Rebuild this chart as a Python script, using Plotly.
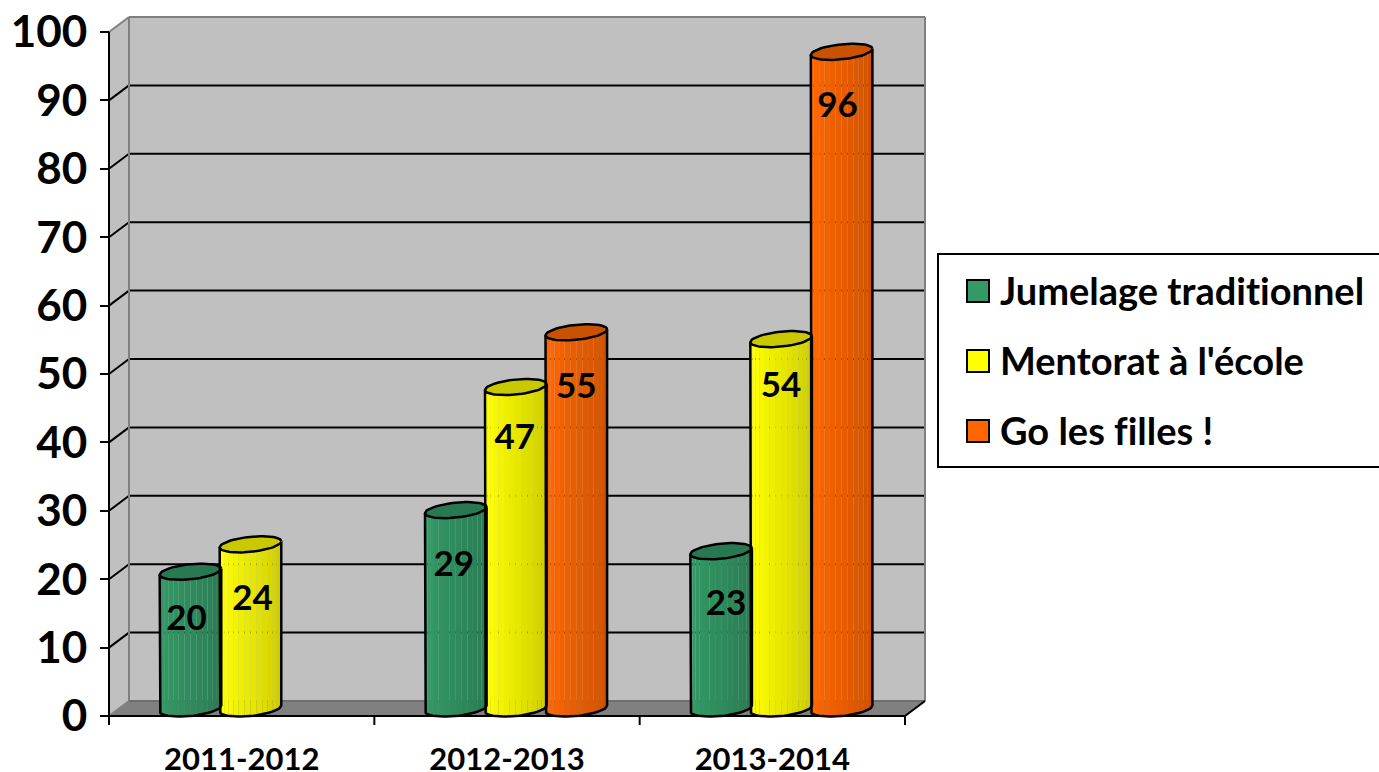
import math
import plotly.graph_objects as go

# ---- data ----
categories = ["2011-2012", "2012-2013", "2013-2014"]
jumelage = [20, 29, 23]
mentorat = [24, 47, 54]
go_filles = [None, 55, 96]
series_names = ["Jumelage traditionnel", "Mentorat à l'école", "Go les filles !"]
y_ticks = [0, 10, 20, 30, 40, 50, 60, 70, 80, 90, 100]

# ---- style ----
series_rgb = [(0x33, 0x99, 0x66), (0xFF, 0xFF, 0x00), (0xFF, 0x66, 0x00)]
W, H = 1379, 772
LEFT, RIGHT, BOTTOM, TOP = 109, 905, 716, 32
PX_X = (RIGHT - LEFT) / len(categories)
PX_Y = (BOTTOM - TOP) / 100
xr = [-0.5 - LEFT / PX_X, len(categories) - 0.5 + (W - RIGHT) / PX_X]
yr = [-(H - BOTTOM) / PX_Y, 100 + TOP / PX_Y]
DX, DY = 20 / PX_X, 15 / PX_Y          # wall depth in data units
X0, X1 = -0.5, len(categories) - 0.5
SHIFT_X, SHIFT_Y = 8.8 / PX_X, 7.5 / PX_Y  # cylinders stand at mid depth
R = 30.8 / PX_X
OFFS = [-60 / PX_X, 0, 60.5 / PX_X]
EH, ET = 7.5 / PX_Y, 3 / PX_Y          # ellipse half height, tilt
N = 16
LINE_W = 2.5
# small hand offsets of the value labels, in pixels: (dx, dy down), series by category
label_nudge = [[(-4, 0), (-2, 7), (5, 5)],
               [(2, 7), (-1, 3), (0, -1)],
               [None, (0, 7), (-4, 6)]]


def shade(rgb, f):
    return "rgb(%d,%d,%d)" % tuple(round(c * f) for c in rgb)


def band_factor(k):
    t = k / (N - 1)
    return 1.0 if t < 0.15 else 1.0 - 0.22 * (t - 0.15) / 0.85


fig = go.Figure()
all_series = [jumelage, mentorat, go_filles]

for s, (name, vals) in enumerate(zip(series_names, all_series)):
    xs, bases, hs, widths, cols = [], [], [], [], []
    for i, v in enumerate(vals):
        if v is None:
            continue
        cx = i + SHIFT_X + OFFS[s]
        for k in range(N):
            a0 = math.pi * (1 - k / N)
            a1 = math.pi * (1 - (k + 1) / N)
            am = (a0 + a1) / 2
            e0, e1 = cx + R * math.cos(a0), cx + R * math.cos(a1)
            xs.append((e0 + e1) / 2)
            widths.append(e1 - e0)
            bases.append(SHIFT_Y - EH * math.sin(am) + ET * math.cos(am))
            hs.append(v)
            cols.append(shade(series_rgb[s], band_factor(k)))
    fig.add_trace(go.Bar(x=xs, y=hs, base=bases, width=widths, name=name,
                         legendgroup=name, marker=dict(color=cols, line=dict(width=0)),
                         hoverinfo="skip"))

# cylinder outlines and top faces
for s, vals in enumerate(all_series):
    for i, v in enumerate(vals):
        if v is None:
            continue
        cx = i + SHIFT_X + OFFS[s]
        angs = [math.pi * j / 30 for j in range(31)]
        low = [(cx + R * math.cos(a), SHIFT_Y - EH * math.sin(a) + ET * math.cos(a)) for a in angs][::-1]
        sil_x = [cx - R] + [p[0] for p in low] + [cx + R]
        sil_y = [v + SHIFT_Y - ET] + [p[1] for p in low] + [v + SHIFT_Y + ET]
        fig.add_trace(go.Scatter(x=sil_x, y=sil_y, mode="lines", showlegend=False, hoverinfo="skip",
                                 line=dict(color="black", width=LINE_W)))
        fa = [math.pi * j / 30 for j in range(61)]
        fig.add_trace(go.Scatter(x=[cx + R * math.cos(a) for a in fa],
                                 y=[v + SHIFT_Y + EH * math.sin(a) + ET * math.cos(a) for a in fa],
                                 mode="lines", fill="toself", fillcolor=shade(series_rgb[s], 0.79),
                                 showlegend=False, hoverinfo="skip",
                                 line=dict(color="black", width=LINE_W)))

# data labels
lx, ly, lt = [], [], []
for s, vals in enumerate(all_series):
    for i, v in enumerate(vals):
        if v is None:
            continue
        ndx, ndy = label_nudge[s][i]
        lx.append(i + SHIFT_X + OFFS[s] + ndx / PX_X)
        ly.append(v + SHIFT_Y - (50 + ndy) / PX_Y)
        lt.append(str(v))
fig.add_trace(go.Scatter(x=lx, y=ly, text=lt, mode="text", showlegend=False, hoverinfo="skip",
                         textfont=dict(family="Lato", size=35, color="black", weight="bold")))

# ---- walls, floor, grid, axis lines ----
shapes = []


def poly(pts, fill, layer="below"):
    p = "M" + " L".join(f"{x},{y}" for x, y in pts) + " Z"
    shapes.append(dict(type="path", path=p, xref="x", yref="y", fillcolor=fill,
                       line=dict(width=0), layer=layer))


def seg(x0, y0, x1, y1, color="black", width=2):
    shapes.append(dict(type="line", x0=x0, y0=y0, x1=x1, y1=y1, xref="x", yref="y",
                       line=dict(color=color, width=width), layer="below"))


poly([(X0 + DX, DY), (X1 + DX, DY), (X1 + DX, 100 + DY), (X0 + DX, 100 + DY)], "#C0C0C0")
poly([(X0, 0), (X0 + DX, DY), (X0 + DX, 100 + DY), (X0, 100)], "#C0C0C0")
poly([(X0, 0), (X1, 0), (X1 + DX, DY), (X0 + DX, DY)], "#808080")
for v in y_ticks[1:-1]:
    seg(X0 + DX, v + DY, X1 + DX, v + DY)
    seg(X0, v, X0 + DX, v + DY)
seg(X0 + DX, DY, X0 + DX, 100 + DY, "#808080")
seg(X1 + DX, DY, X1 + DX, 100 + DY, "#808080")
seg(X0 + DX, 100 + DY, X1 + DX, 100 + DY, "#808080")
seg(X0 + DX, DY, X1 + DX, DY, "#6E6E6E")
seg(X0, 100, X0 + DX, 100 + DY, "#808080")
seg(X0, 0, X0 + DX, DY, "#808080")
seg(X1, 0, X1 + DX, DY)
seg(X0, 0, X0, 100)
seg(X0, 0, X1, 0)
for j in range(len(categories) + 1):
    seg(X0 + j, 0, X0 + j, -9 / PX_Y)

# ---- legend frame and swatches ----
LEG_L, LEG_T, LEG_B = 938, 254, 467
shapes.append(dict(type="rect", xref="paper", yref="paper", x0=LEG_L / W, x1=1382 / W,
                   y0=1 - LEG_B / H, y1=1 - LEG_T / H, fillcolor="white",
                   line=dict(color="black", width=2), layer="below"))
for s, yc in enumerate([291, 361, 431]):
    shapes.append(dict(type="rect", xref="paper", yref="paper", x0=967 / W, x1=989 / W,
                       y0=1 - (yc + 11) / H, y1=1 - (yc - 11) / H,
                       fillcolor=shade(series_rgb[s], 1),
                       line=dict(color="black", width=2), layer="below"))

fig.update_layout(
    width=W, height=H, margin=dict(l=0, r=0, t=0, b=0, autoexpand=False),
    paper_bgcolor="white", plot_bgcolor="rgba(0,0,0,0)",
    barmode="overlay", shapes=shapes,
    xaxis=dict(range=xr, domain=[0, 1], tickmode="array", tickvals=list(range(len(categories))),
               ticktext=categories, ticks="", showgrid=False, zeroline=False, showline=False,
               anchor="free", position=(H - BOTTOM) / H, ticklabelstandoff=22,
               tickfont=dict(family="Lato", size=31, color="black", weight="bold"), fixedrange=True),
    yaxis=dict(range=yr, domain=[0, 1], tickmode="array", tickvals=y_ticks,
               ticktext=[str(v) for v in y_ticks], ticks="outside", ticklen=9, tickwidth=2,
               tickcolor="black", showgrid=False, zeroline=False, showline=False,
               anchor="free", position=LEFT / W, ticklabelstandoff=4,
               tickfont=dict(family="Lato", size=44, color="black", weight="bold"), fixedrange=True),
    legend=dict(x=960 / W, y=1 - 258.5 / H, xanchor="left", yanchor="top",
                bgcolor="rgba(0,0,0,0)", borderwidth=0, tracegroupgap=18,
                font=dict(family="Lato", size=38, color="black", weight="bold")),
    showlegend=True,
)

post = """
document.body.style.margin='0';
document.body.style.overflow='hidden';
var st=document.createElement('style');
st.textContent="text,tspan{font-variant-ligatures:none !important;font-feature-settings:'liga' 0,'clig' 0 !important;}";
document.head.appendChild(st);
"""
fig.write_html("out.html", config={"displayModeBar": False}, post_script=post)
